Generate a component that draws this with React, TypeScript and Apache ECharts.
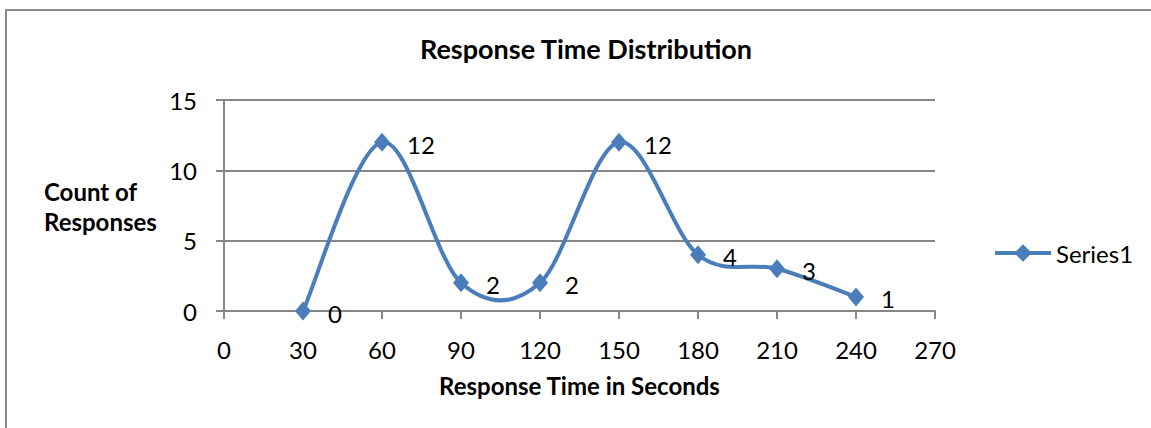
import React, { useEffect, useRef } from "react";
import * as echarts from "echarts";

// Response time buckets (seconds) and how many responses fell in each
const responseTimes = [30, 60, 90, 120, 150, 180, 210, 240];
const responseCounts = [0, 12, 2, 2, 12, 4, 3, 1];

const xTicks = { min: 0, max: 270, interval: 30 };
const yTicks = { min: 0, max: 15, interval: 5 };

const seriesName = "Series1";
const FONT = "Lato, 'Open Sans', sans-serif";
const BLUE = "#4A7EBB";
const GRID_GRAY = "#868686";

export default function App() {
  const ref = useRef<HTMLDivElement>(null);

  useEffect(() => {
    if (!ref.current) return;
    const chart = echarts.init(ref.current, undefined, { renderer: "svg" });
    const points = responseTimes.map((t, i) => [t, responseCounts[i]]);
    const n = points.length;

    // Smoothed connector: cubic Bezier per segment, control points taken
    // from the neighbouring points (Catmull-Rom style, tension 1/6).
    const renderSegment = (params: any, api: any) => {
      const i = params.dataIndex;
      if (i >= n - 1) return null;
      const c = (j: number) => api.coord(points[Math.max(0, Math.min(n - 1, j))]);
      const p0 = c(i - 1);
      const p1 = c(i);
      const p2 = c(i + 1);
      const p3 = c(i + 2);
      return {
        type: "bezierCurve",
        shape: {
          x1: p1[0],
          y1: p1[1],
          cpx1: p1[0] + (p2[0] - p0[0]) / 6,
          cpy1: p1[1] + (p2[1] - p0[1]) / 6,
          cpx2: p2[0] - (p3[0] - p1[0]) / 6,
          cpy2: p2[1] - (p3[1] - p1[1]) / 6,
          x2: p2[0],
          y2: p2[1],
        },
        style: { stroke: BLUE, lineWidth: 4, fill: "none", lineCap: "round" },
      };
    };

    chart.setOption({
      animation: false,
      backgroundColor: "#ffffff",
      textStyle: { fontFamily: FONT, color: "#000" },
      title: {
        text: "Response Time Distribution",
        left: 581,
        top: 30,
        textAlign: "center",
        textStyle: { fontFamily: FONT, fontSize: 27, fontWeight: "bold", color: "#000" },
      },
      graphic: [
        {
          type: "rect",
          shape: { x: 6, y: 10, width: 1300, height: 600 },
          style: { fill: "none", stroke: "#8a8a8a", lineWidth: 2 },
          silent: true,
        },
        {
          type: "text",
          left: 44,
          top: 176,
          style: {
            text: "Count of\nResponses",
            align: "center",
            fontFamily: FONT,
            fontSize: 24,
            fontWeight: "bold",
            lineHeight: 30,
            fill: "#000",
          },
        },
      ],
      legend: {
        left: 993,
        top: 241,
        padding: 0,
        itemWidth: 56,
        itemHeight: 22,
        itemGap: 4,
        textStyle: { fontFamily: FONT, fontSize: 24, color: "#000" },
        data: [
          {
            name: seriesName,
            lineStyle: { color: BLUE, width: 4, opacity: 1 },
            itemStyle: { color: BLUE },
          },
        ],
      },
      grid: { left: 224, right: 216, top: 100, bottom: 117 },
      xAxis: {
        type: "value",
        min: xTicks.min,
        max: xTicks.max,
        interval: xTicks.interval,
        name: "Response Time in Seconds",
        nameLocation: "middle",
        nameGap: 62,
        nameTextStyle: { fontFamily: FONT, fontSize: 24, fontWeight: "bold", color: "#000" },
        axisLine: { lineStyle: { color: GRID_GRAY, width: 2 } },
        axisTick: { show: true, length: 8, lineStyle: { color: GRID_GRAY, width: 2 } },
        axisLabel: { fontFamily: FONT, fontSize: 24, color: "#000", margin: 26 },
        splitLine: { show: false },
      },
      yAxis: {
        type: "value",
        min: yTicks.min,
        max: yTicks.max,
        interval: yTicks.interval,
        axisLine: { show: true, lineStyle: { color: GRID_GRAY, width: 2 } },
        axisTick: { show: true, length: 8, lineStyle: { color: GRID_GRAY, width: 2 } },
        axisLabel: { fontFamily: FONT, fontSize: 24, color: "#000", margin: 27 },
        splitLine: { show: true, lineStyle: { color: GRID_GRAY, width: 2 } },
      },
      series: [
        {
          name: "curve",
          type: "custom",
          data: points,
          renderItem: renderSegment,
          encode: { x: 0, y: 1 },
          z: 2,
          silent: true,
        },
        {
          name: seriesName,
          type: "line",
          data: points,
          z: 3,
          symbol: "diamond",
          symbolSize: [16, 19],
          lineStyle: { color: BLUE, width: 4, opacity: 0 },
          itemStyle: { color: BLUE },
          label: {
            show: true,
            position: "right",
            distance: 17,
            offset: [0, 2],
            fontFamily: FONT,
            fontSize: 24,
            color: "#000",
            formatter: (p: any) => String(p.value[1]),
          },
        },
      ],
    });

    return () => chart.dispose();
  }, []);

  return (
    <div
      ref={ref}
      style={{ position: "fixed", left: 0, top: 0, width: 1151, height: 428 }}
    />
  );
}
